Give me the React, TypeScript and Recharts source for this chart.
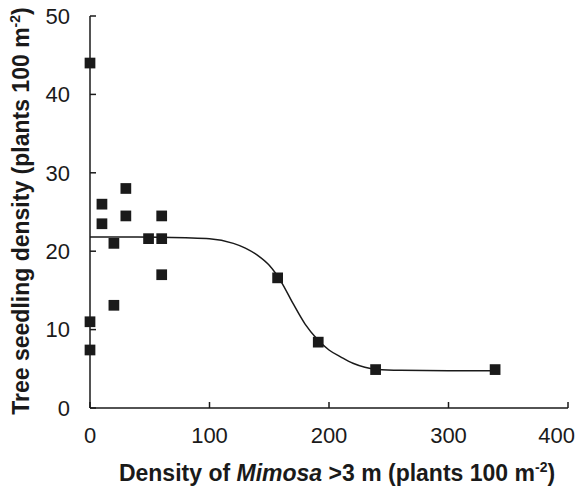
import React from "react";
import {
    ComposedChart,
    Line,
    Scatter,
    XAxis,
    YAxis,
    ZAxis,
} from "recharts";

// observed plots: Mimosa density vs tree seedling density
const obsX = [0, 0, 0, 10, 10, 20, 20, 30, 30, 49, 60, 60, 60, 157, 191, 239, 339];
const obsY = [44.0, 11.0, 7.4, 26.0, 23.5, 21.0, 13.1, 28.0, 24.5, 21.6, 24.5, 21.6, 17.0, 16.6, 8.4, 4.9, 4.9];

// fitted curve
const fitX = [0, 40, 80, 100, 120, 130, 140, 150, 160, 170, 180, 190, 200, 210, 220, 230, 240, 260, 300, 340];
const fitY = [21.8, 21.8, 21.7, 21.6, 21.0, 20.4, 19.5, 18.2, 16.1, 13.3, 10.7, 8.8, 7.4, 6.5, 5.7, 5.2, 4.95, 4.8, 4.75, 4.75];

const xTicks = [0, 100, 200, 300, 400];
const yTicks = [0, 10, 20, 30, 40, 50];

const FONT = '"Liberation Sans", Arial, sans-serif';
const INK = "#1a1a1a";
const TICK_FS = 22;

export default function App() {
    const points = obsX.map((x, i) => ({ x, y: obsY[i] }));
    const curve = fitX.map((x, i) => ({ x, y: fitY[i] }));

    // keep the last x label inside the frame, like the original
    const xTick = (props: any) => {
        const { x, y, payload } = props;
        const label = String(payload.value);
        const half = (label.length * 0.556 * TICK_FS) / 2;
        const overflow = x + half > 575;
        return (
            <text
                x={overflow ? 575 : x}
                y={y}
                dy="0.71em"
                textAnchor={overflow ? "end" : "middle"}
                fontFamily={FONT}
                fontSize={TICK_FS}
                fill={INK}
            >
                {label}
            </text>
        );
    };

    const xTitle = (props: any) => {
        const vb = props.viewBox;
        return (
            <text
                x={337}
                y={vb.y + 73}
                textAnchor="middle"
                fontFamily={FONT}
                fontWeight="bold"
                fontSize={23}
                fill={INK}
            >
                <tspan>Density of </tspan>
                <tspan fontStyle="italic">Mimosa</tspan>
                <tspan> &gt;3 m (plants 100 m</tspan>
                <tspan fontSize={14} dy={-9}>-2</tspan>
                <tspan dy={9}>)</tspan>
            </text>
        );
    };

    const yTitle = (props: any) => {
        const vb = props.viewBox;
        const cx = 29;
        const cy = 211;
        return (
            <text
                x={cx}
                y={cy}
                transform={`rotate(-90, ${cx}, ${cy})`}
                textAnchor="middle"
                fontFamily={FONT}
                fontWeight="bold"
                fontSize={23}
                fill={INK}
            >
                <tspan>Tree seedling density (plants 100 m</tspan>
                <tspan fontSize={14} dy={-9}>-2</tspan>
                <tspan dy={9}>)</tspan>
            </text>
        );
    };

    return (
        <div style={{ position: "absolute", left: 0, top: 0 }}>
            <ComposedChart
                width={579}
                height={489}
                margin={{ top: 16, right: 11, bottom: 0, left: 0 }}
            >
                <XAxis
                    type="number"
                    dataKey="x"
                    domain={[0, 400]}
                    ticks={xTicks}
                    height={81}
                    tickSize={-6}
                    tickMargin={25}
                    axisLine={{ stroke: INK, strokeWidth: 1.5 }}
                    tickLine={{ stroke: INK, strokeWidth: 1.5 }}
                    tick={xTick}
                    label={{ content: xTitle }}
                />
                <YAxis
                    type="number"
                    dataKey="y"
                    domain={[0, 50]}
                    ticks={yTicks}
                    width={90}
                    tickSize={-6}
                    tickMargin={26}
                    axisLine={{ stroke: INK, strokeWidth: 1.5 }}
                    tickLine={{ stroke: INK, strokeWidth: 1.5 }}
                    tick={{ fill: INK, fontSize: TICK_FS, fontFamily: FONT }}
                    label={{ content: yTitle }}
                />
                <ZAxis range={[115, 115]} />
                <Line
                    data={curve}
                    dataKey="y"
                    type="monotone"
                    stroke={INK}
                    strokeWidth={1.5}
                    dot={false}
                    activeDot={false}
                    isAnimationActive={false}
                />
                <Scatter
                    data={points}
                    dataKey="y"
                    shape="square"
                    fill={INK}
                    isAnimationActive={false}
                />
            </ComposedChart>
        </div>
    );
}
